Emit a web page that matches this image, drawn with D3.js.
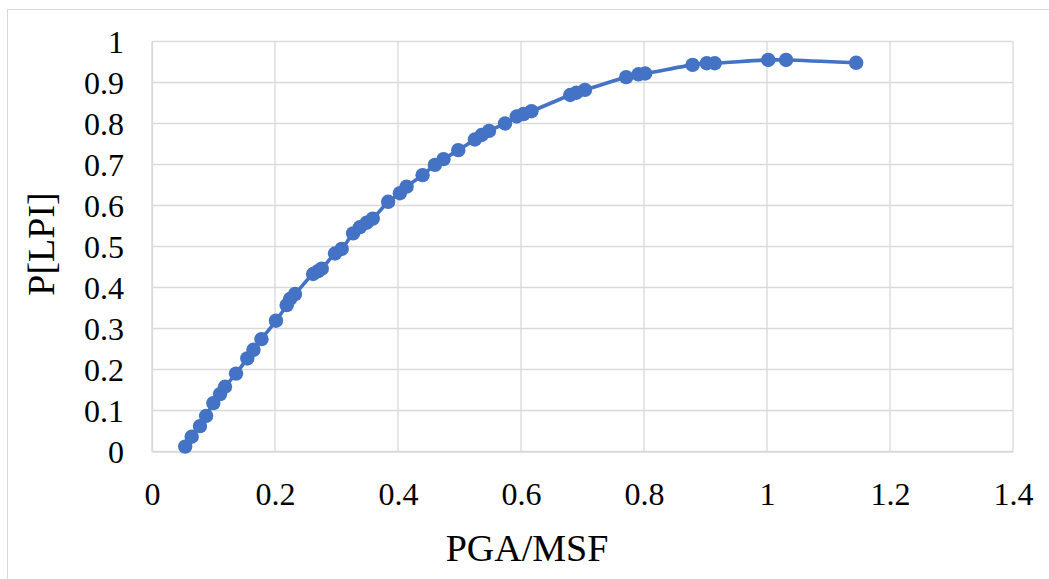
<!DOCTYPE html>
<html>
<head>
<meta charset="utf-8">
<script src="https://cdn.jsdelivr.net/npm/d3@7"></script>
<style>
  html, body { margin: 0; padding: 0; background: #fff; }
  svg { display: block; }
  text { font-family: "Liberation Serif", "Times New Roman", serif; fill: #000; }
</style>
</head>
<body>
<svg id="chart" width="1049" height="579"></svg>
<script>
// PGA/MSF ratio for each site
const pgaMsf = [
  0.054, 0.0645, 0.078, 0.088, 0.0997, 0.1106, 0.1187, 0.1366, 0.155, 0.165,
  0.178, 0.2016, 0.219, 0.2244, 0.2325, 0.262, 0.270, 0.276, 0.2976, 0.3084,
  0.327, 0.338, 0.349, 0.359, 0.384, 0.403, 0.414, 0.44, 0.46, 0.474,
  0.498, 0.525, 0.536, 0.548, 0.574, 0.593, 0.604, 0.617, 0.68, 0.69,
  0.704, 0.771, 0.791, 0.802, 0.879, 0.902, 0.915, 1.002, 1.031, 1.145
];
// Probability of liquefaction P[LPI]
const pLpi = [
  0.012, 0.036, 0.062, 0.087, 0.118, 0.140, 0.158, 0.190, 0.227, 0.248,
  0.274, 0.319, 0.357, 0.372, 0.384, 0.433, 0.440, 0.446, 0.483, 0.494,
  0.532, 0.547, 0.558, 0.568, 0.609, 0.630, 0.646, 0.674, 0.699, 0.713,
  0.735, 0.761, 0.772, 0.782, 0.800, 0.817, 0.823, 0.830, 0.8695, 0.875,
  0.882, 0.913, 0.920, 0.922, 0.943, 0.947, 0.947, 0.955, 0.955, 0.948
];
const xTicks = [0, 0.2, 0.4, 0.6, 0.8, 1, 1.2, 1.4];
const yTicks = [0, 0.1, 0.2, 0.3, 0.4, 0.5, 0.6, 0.7, 0.8, 0.9, 1];
const xTitle = "PGA/MSF";
const yTitle = "P[LPI]";

const svg = d3.select("#chart");
const blue = "#4472C4";
const grid = "#d9d9d9";

// chart frame
svg.append("rect")
  .attr("x", 7.5).attr("y", 9.5)
  .attr("width", 1100).attr("height", 700)
  .attr("fill", "#fff").attr("stroke", "#d9d9d9").attr("stroke-width", 1);

const plot = { left: 152, right: 1013, top: 41.5, bottom: 451.5 };

const x = d3.scaleLinear().domain([0, 1.4]).range([plot.left, plot.right]);
const y = d3.scaleLinear().domain([0, 1]).range([plot.bottom, plot.top]);

// gridlines
svg.append("g").selectAll("line.h").data(yTicks).join("line")
  .attr("x1", plot.left).attr("x2", plot.right)
  .attr("y1", d => y(d)).attr("y2", d => y(d))
  .attr("stroke", grid).attr("stroke-width", 1.3);
svg.append("g").selectAll("line.v").data(xTicks).join("line")
  .attr("x1", d => x(d)).attr("x2", d => x(d))
  .attr("y1", plot.top).attr("y2", plot.bottom)
  .attr("stroke", grid).attr("stroke-width", 1.3);

// axes (labels only, no tick marks)
const xAxis = svg.append("g")
  .attr("transform", `translate(0,${plot.bottom})`)
  .call(d3.axisBottom(x).tickValues(xTicks).tickSize(0).tickPadding(0).tickFormat(d3.format("")));
xAxis.select(".domain").attr("stroke", grid).attr("stroke-width", 1.3);
xAxis.selectAll("text")
  .attr("y", 53).attr("dy", 0)
  .style("font-size", "32px").style("font-family", "Liberation Serif").attr("fill", "#000");

const yAxis = svg.append("g")
  .attr("transform", `translate(${plot.left},0)`)
  .call(d3.axisLeft(y).tickValues(yTicks).tickSize(0).tickPadding(0).tickFormat(d3.format("")));
yAxis.select(".domain").attr("stroke", grid).attr("stroke-width", 1.3);
yAxis.selectAll("text")
  .attr("x", -28).attr("dy", "0.34em")
  .style("font-size", "32px").style("font-family", "Liberation Serif").attr("fill", "#000");

// axis titles
svg.append("text")
  .attr("x", 527).attr("y", 561)
  .attr("text-anchor", "middle")
  .style("font-size", "38px")
  .text(xTitle);
svg.append("text")
  .attr("transform", "translate(54,244) rotate(-90)")
  .attr("text-anchor", "middle")
  .style("font-size", "38px")
  .text(yTitle);

// smoothed line through the points
const pts = pgaMsf.map((v, i) => [v, pLpi[i]]);
const line = d3.line()
  .x(d => x(d[0])).y(d => y(d[1]))
  .curve(d3.curveCatmullRom.alpha(0.5));
svg.append("path")
  .datum(pts)
  .attr("d", line)
  .attr("fill", "none")
  .attr("stroke", blue)
  .attr("stroke-width", 3.6)
  .attr("stroke-linejoin", "round");

// markers
svg.append("g").selectAll("circle").data(pts).join("circle")
  .attr("cx", d => x(d[0])).attr("cy", d => y(d[1]))
  .attr("r", 7.2)
  .attr("fill", blue);
</script>
</body>
</html>
